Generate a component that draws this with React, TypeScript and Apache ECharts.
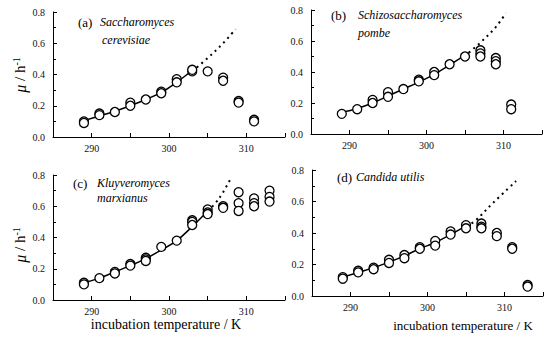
import React, { useEffect, useRef } from "react";
import * as echarts from "echarts";

// Specific growth rate (mu, h^-1) versus incubation temperature (K) for four yeasts.
// Each entry is [temperature, mu].

const obsA: [number, number][] = [
  [289, 0.10], [289, 0.09], [291, 0.15], [291, 0.14], [293, 0.16],
  [295, 0.22], [295, 0.20], [297, 0.24], [299, 0.29], [299, 0.28],
  [301, 0.37], [301, 0.35], [303, 0.42], [303, 0.43], [305, 0.42],
  [307, 0.38], [307, 0.36], [309, 0.23], [309, 0.22], [311, 0.11], [311, 0.10],
];
const fitA: [number, number][] = [
  [289, 0.105], [291, 0.135], [293, 0.165], [295, 0.2], [297, 0.24],
  [299, 0.285], [301, 0.35], [303, 0.425], [303.6, 0.445],
];
const extA: [number, number][] = [
  [303.6, 0.445], [305, 0.505], [307, 0.6], [308.6, 0.69],
];

const obsB: [number, number][] = [
  [289, 0.13], [291, 0.16], [293, 0.22], [293, 0.20], [295, 0.27], [295, 0.24],
  [297, 0.29], [299, 0.35], [299, 0.34], [301, 0.40], [301, 0.38], [303, 0.45],
  [305, 0.50], [307, 0.54], [307, 0.52], [307, 0.50], [309, 0.49], [309, 0.47],
  [309, 0.45], [311, 0.19], [311, 0.16],
];
const fitB: [number, number][] = [
  [289, 0.14], [291, 0.165], [293, 0.2], [295, 0.245], [297, 0.29],
  [299, 0.335], [301, 0.385], [303, 0.445], [305.5, 0.525],
];
const extB: [number, number][] = [
  [305.5, 0.525], [307, 0.59], [309, 0.69], [310.3, 0.78],
];

const obsC: [number, number][] = [
  [289, 0.11], [289, 0.10], [291, 0.14], [293, 0.18], [293, 0.17],
  [295, 0.23], [295, 0.22], [297, 0.27], [297, 0.26], [297, 0.25],
  [299, 0.34], [301, 0.38], [303, 0.51], [303, 0.50], [303, 0.48],
  [305, 0.58], [305, 0.56], [305, 0.55], [307, 0.60], [307, 0.59],
  [309, 0.69], [309, 0.62], [309, 0.57], [311, 0.65], [311, 0.62], [311, 0.60],
  [313, 0.70], [313, 0.66], [313, 0.63],
];
const fitC: [number, number][] = [
  [289, 0.11], [291, 0.14], [293, 0.18], [295, 0.22], [297, 0.265],
  [299, 0.32], [301, 0.38], [303, 0.47], [305, 0.57],
];
const extC: [number, number][] = [
  [305, 0.57], [306, 0.62], [307, 0.69], [308, 0.78],
];

const obsD: [number, number][] = [
  [289, 0.12], [289, 0.11], [291, 0.16], [291, 0.15], [293, 0.18], [293, 0.17],
  [295, 0.23], [295, 0.21], [297, 0.26], [297, 0.24], [299, 0.31], [299, 0.30],
  [301, 0.35], [301, 0.32], [303, 0.41], [303, 0.39], [305, 0.45], [305, 0.43],
  [307, 0.46], [307, 0.44], [307, 0.43], [309, 0.40], [309, 0.38],
  [311, 0.31], [311, 0.30], [313, 0.07], [313, 0.06],
];
const fitD: [number, number][] = [
  [289, 0.12], [291, 0.15], [293, 0.18], [295, 0.215], [297, 0.255],
  [299, 0.3], [301, 0.34], [303, 0.39], [305, 0.445],
];
const extD: [number, number][] = [
  [305, 0.445], [306, 0.47], [308.5, 0.59], [311.5, 0.73],
];

const panelTags = ["(a)", "(b)", "(c)", "(d)"];
const speciesLines = [
  ["Saccharomyces", "cerevisiae"],
  ["Schizosaccharomyces", "pombe"],
  ["Kluyveromyces", "marxianus"],
  ["Candida utilis"],
];
const xTitle = "incubation temperature / K";

const SERIF = "Liberation Serif";

const grids = [
  { left: 53, top: 12, width: 232, height: 125 },
  { left: 311, top: 10, width: 231, height: 124 },
  { left: 53, top: 175, width: 232, height: 125 },
  { left: 312, top: 170, width: 231, height: 126 },
];

const tagPos = [
  { tag: [78, 22], sp: [[100, 22], [102, 40]] },
  { tag: [331, 15], sp: [[358, 15], [358, 33]] },
  { tag: [73, 183], sp: [[97, 183], [97, 198]] },
  { tag: [337, 177], sp: [[356, 177]] },
];

export default function App() {
  const ref = useRef<HTMLDivElement>(null);

  useEffect(() => {
    if (!ref.current) return;
    const chart = echarts.init(ref.current, undefined, { renderer: "svg" });

    const obs = [obsA, obsB, obsC, obsD];
    const fits = [fitA, fitB, fitC, fitD];
    const exts = [extA, extB, extC, extD];

    const xAxis = grids.map((_, i) => ({
      type: "value",
      gridIndex: i,
      min: 285,
      max: 315,
      interval: 5,
      axisLine: { lineStyle: { color: "#000", width: 1 } },
      axisTick: { inside: true, length: 4, lineStyle: { color: "#000" } },
      axisLabel: {
        margin: 6,
        fontFamily: SERIF,
        fontSize: 10,
        color: "#111",
        formatter: (v: number) => (v % 10 === 0 ? String(v) : ""),
      },
      splitLine: { show: false },
    }));

    const yAxis = grids.map((_, i) => ({
      type: "value",
      gridIndex: i,
      min: 0,
      max: 0.8,
      interval: 0.2,
      axisLine: { show: true, lineStyle: { color: "#000", width: 1 } },
      axisTick: { show: true, inside: true, length: 4, lineStyle: { color: "#000" } },
      minorTick: { show: true, splitNumber: 2, length: 3, lineStyle: { color: "#000" } },
      axisLabel: {
        margin: 8,
        fontFamily: SERIF,
        fontSize: 10,
        color: "#111",
        formatter: (v: number) => v.toFixed(1),
      },
      splitLine: { show: false },
    }));

    const series: any[] = [];
    for (let i = 0; i < 4; i++) {
      series.push({
        type: "line",
        xAxisIndex: i,
        yAxisIndex: i,
        data: fits[i],
        smooth: 0.4,
        showSymbol: false,
        lineStyle: { color: "#000", width: 1.5 },
        z: 2,
      });
      series.push({
        type: "line",
        xAxisIndex: i,
        yAxisIndex: i,
        data: exts[i],
        smooth: 0.4,
        showSymbol: false,
        lineStyle: { color: "#000", width: 2, type: [2, 4] },
        z: 2,
      });
      series.push({
        type: "scatter",
        xAxisIndex: i,
        yAxisIndex: i,
        data: obs[i],
        symbol: "circle",
        symbolSize: 9,
        itemStyle: { color: "#fff", borderColor: "#000", borderWidth: 1.3, opacity: 1 },
        z: 3,
      });
    }

    const graphic: any[] = [];
    tagPos.forEach((p, i) => {
      graphic.push({
        type: "text",
        x: p.tag[0],
        y: p.tag[1],
        style: {
          text: panelTags[i],
          font: `13px ${SERIF}`,
          fill: "#000",
          verticalAlign: "middle",
        },
      });
      speciesLines[i].forEach((line, k) => {
        graphic.push({
          type: "text",
          x: p.sp[k][0],
          y: p.sp[k][1],
          style: {
            text: line,
            font: `italic 12px ${SERIF}`,
            fill: "#000",
            verticalAlign: "middle",
          },
        });
      });
    });

    // rotated y-axis titles on the left-hand panels
    [[20, 75], [20, 245]].forEach(([x, y]) => {
      graphic.push({
        type: "text",
        x,
        y,
        rotation: Math.PI / 2,
        style: {
          text: "{i|μ} / h{s|-1}",
          align: "center",
          verticalAlign: "middle",
          fill: "#000",
          font: `15px ${SERIF}`,
          rich: {
            i: { fontFamily: SERIF, fontStyle: "italic", fontSize: 16 },
            s: { fontFamily: SERIF, fontSize: 10, verticalAlign: "top", padding: [0, 0, 8, 0] },
          },
        },
      });
    });

    // x-axis titles below the bottom panels
    [[166, 324, 14], [463, 325, 13]].forEach(([x, y, fs]) => {
      graphic.push({
        type: "text",
        x,
        y,
        style: {
          text: xTitle,
          align: "center",
          verticalAlign: "middle",
          fill: "#000",
          font: `${fs}px ${SERIF}`,
        },
      });
    });

    chart.setOption({
      animation: false,
      backgroundColor: "#fff",
      grid: grids.map((g) => ({ ...g, containLabel: false })),
      xAxis,
      yAxis,
      series,
      graphic,
    });

    return () => chart.dispose();
  }, []);

  return (
    <div
      ref={ref}
      style={{ width: 552, height: 340, position: "absolute", left: 0, top: 0 }}
    />
  );
}
